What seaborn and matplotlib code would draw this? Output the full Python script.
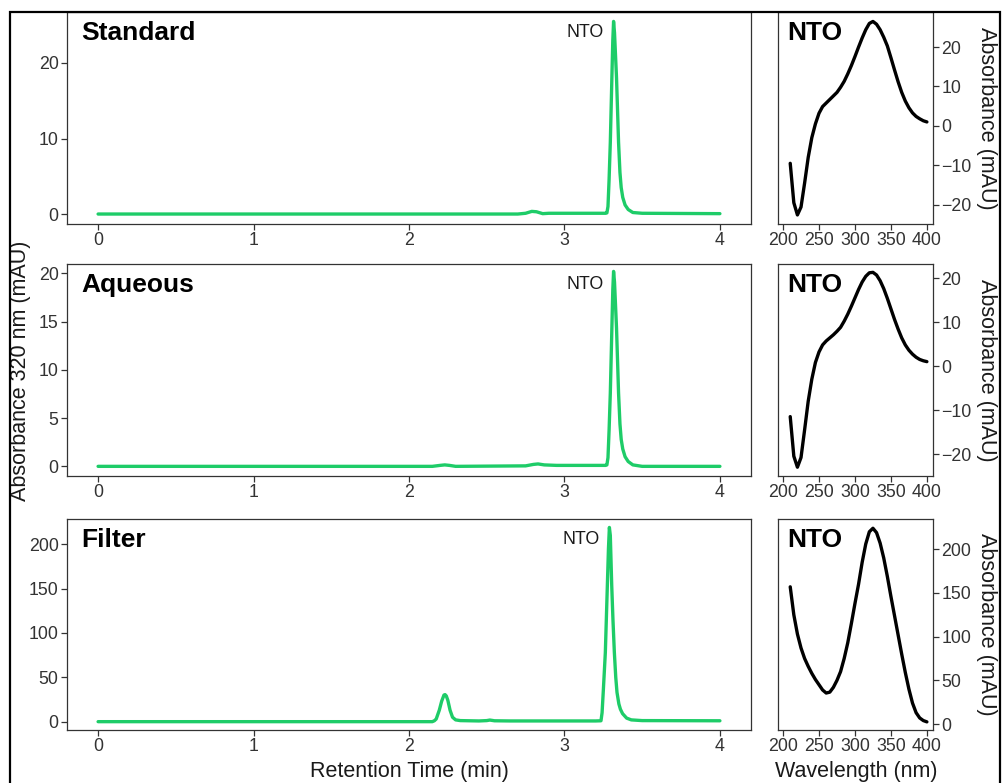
import matplotlib
matplotlib.use("Agg")
import matplotlib.pyplot as plt
import seaborn as sns
import numpy as np
from matplotlib.patches import Rectangle

# ---------------- data ----------------
sample_titles = ["Standard", "Aqueous", "Filter"]
peak_label = "NTO"

std_time = [0.0, 2.70, 2.75, 2.79, 2.82, 2.86, 2.90, 3.00, 3.20, 3.265, 3.273, 3.28, 3.287,
            3.295, 3.305, 3.311, 3.316, 3.322, 3.335, 3.348, 3.357, 3.365, 3.375, 3.39,
            3.41, 3.44, 3.50, 4.0]
std_abs = [0.0, 0.0, 0.1, 0.35, 0.3, 0.05, 0.1, 0.1, 0.1, 0.1, 0.15, 1.0, 4.5,
           9.5, 18.0, 23.0, 25.5, 24.0, 18.0, 9.5, 5.5, 3.5, 2.2, 1.2,
           0.6, 0.2, 0.1, 0.05]

aq_time = [0.0, 2.15, 2.20, 2.23, 2.26, 2.30, 2.75, 2.80, 2.83, 2.87, 2.95, 3.20, 3.265,
           3.273, 3.28, 3.287, 3.295, 3.305, 3.311, 3.316, 3.322, 3.335, 3.348, 3.357,
           3.365, 3.375, 3.39, 3.41, 3.44, 3.50, 4.0]
aq_abs = [0.0, 0.0, 0.1, 0.15, 0.1, 0.0, 0.05, 0.2, 0.25, 0.15, 0.1, 0.1, 0.1,
          0.15, 0.9, 3.7, 7.6, 14.3, 18.3, 20.2, 19.1, 14.3, 7.6, 4.4,
          2.8, 1.8, 1.0, 0.5, 0.15, 0.0, 0.0]

fil_time = [0.0, 2.15, 2.163, 2.175, 2.195, 2.21, 2.225, 2.232, 2.24, 2.25, 2.264, 2.28,
            2.30, 2.33, 2.45, 2.50, 2.52, 2.55, 2.65, 3.20, 3.235, 3.242, 3.25, 3.263,
            3.276, 3.283, 3.289, 3.295, 3.304, 3.312, 3.321, 3.33, 3.338, 3.35, 3.36,
            3.374, 3.40, 3.43, 3.50, 4.0]
fil_abs = [0.0, 0.0, 1.0, 3.0, 13.0, 23.0, 30.0, 30.5, 29.0, 24.0, 13.0, 5.0,
           2.0, 1.2, 0.8, 1.2, 1.8, 1.0, 0.8, 0.8, 1.0, 10.0, 35.0, 78.0,
           154.0, 195.0, 219.0, 210.0, 154.0, 115.0, 78.0, 50.0, 33.0, 20.0, 14.0,
           9.0, 4.0, 2.0, 1.2, 1.0]

wavelength = [210, 215, 220, 225, 230, 235, 240, 245, 250, 255, 260, 265, 270, 275,
              280, 285, 290, 295, 300, 305, 310, 315, 320, 325, 330, 335, 340, 345,
              350, 355, 360, 365, 370, 375, 380, 385, 390, 395, 400]
std_spec = [-9.5, -19.5, -22.6, -20.6, -14.5, -8.0, -3.0, 0.5, 3.2, 4.9, 5.8, 6.7, 7.6, 8.5,
            9.8, 11.3, 13.2, 15.3, 17.6, 20.0, 22.3, 24.4, 26.0, 26.5, 25.8, 24.4, 22.5, 20.3,
            17.3, 14.2, 11.2, 8.5, 6.3, 4.6, 3.3, 2.4, 1.8, 1.3, 1.0]
aq_spec = [-11.5, -20.5, -23.0, -20.8, -14.5, -8.0, -3.0, 0.8, 3.2, 4.8, 5.7, 6.4, 7.1, 7.9,
           8.8, 10.2, 11.8, 13.6, 15.5, 17.4, 19.1, 20.4, 21.2, 21.3, 20.7, 19.4, 17.6, 15.4,
           13.0, 10.6, 8.4, 6.4, 4.8, 3.6, 2.7, 2.0, 1.5, 1.2, 1.0]
fil_spec = [157, 125, 103, 87, 75, 66, 58, 51, 45, 39, 35.5, 36.5, 42, 50,
            60, 75, 93, 115, 138, 160, 185, 206, 220, 224, 219, 207, 190, 169,
            146, 124, 102, 80, 59, 40, 24, 13, 7, 4, 2.5]

chrom_yticks = [[0, 10, 20], [0, 5, 10, 15, 20], [0, 50, 100, 150, 200]]
spec_yticks = [[-20, -10, 0, 10, 20], [-20, -10, 0, 10, 20], [0, 50, 100, 150, 200]]
chrom_xticks = [0, 1, 2, 3, 4]
spec_xticks = [200, 250, 300, 350, 400]

# ---------------- style ----------------
sns.set_theme(style="ticks")
plt.rcParams["font.family"] = ["Liberation Sans", "DejaVu Sans"]

W, H = 1004, 783
fig = plt.figure(figsize=(W / 100, H / 100), dpi=100)

GREEN = "#1ECC68"
FRAME = "#333333"
TICKTXT = "#333333"


def px_axes(l, t, r, b):
    return fig.add_axes([l / W, 1 - b / H, (r - l) / W, (b - t) / H])


rows = [(12, 224), (264, 476), (519, 730)]
chrom = [(std_time, std_abs), (aq_time, aq_abs), (fil_time, fil_abs)]
specs = [std_spec, aq_spec, fil_spec]
chrom_ylim = [(-1.32, 26.75), (-1.0, 20.97), (-9.4, 228.5)]
spec_ylim = [(-24.9, 28.9), (-25.0, 23.2), (-6.8, 234.6)]


def style_axes(ax):
    for s in ax.spines.values():
        s.set_visible(True)
        s.set_color(FRAME)
        s.set_linewidth(0.9)
    ax.tick_params(direction="out", length=4, width=0.9, color=FRAME,
                   labelsize=12.8, labelcolor=TICKTXT, pad=2)


for i, (top, bot) in enumerate(rows):
    t, a = chrom[i]
    axc = px_axes(67, top, 751, bot)
    sns.lineplot(x=t, y=a, ax=axc, color=GREEN, linewidth=2.4, estimator=None, sort=False,
                 solid_joinstyle="round", solid_capstyle="round")
    axc.set_xlim(-0.2, 4.2)
    axc.set_ylim(*chrom_ylim[i])
    axc.set_xticks(chrom_xticks)
    axc.set_yticks(chrom_yticks[i])
    axc.set_xlabel("")
    axc.set_ylabel("")
    style_axes(axc)
    axc.annotate(sample_titles[i], xy=(0, 1), xycoords="axes fraction",
                 xytext=(14, -28), textcoords="offset pixels",
                 ha="left", va="baseline", fontsize=19, fontweight="bold", color="black")
    k = int(np.argmax(a))
    axc.annotate(peak_label, xy=(t[k], 1), xycoords=("data", "axes fraction"),
                 xytext=(-10, -25), textcoords="offset pixels",
                 ha="right", va="baseline", fontsize=12.8, color="#1a1a1a")

    axs = px_axes(778, top, 933, bot)
    sns.lineplot(x=wavelength, y=specs[i], ax=axs, color="black", linewidth=2.4,
                 estimator=None, sort=False, solid_joinstyle="round", solid_capstyle="round")
    axs.set_xlim(193, 408.5)
    axs.set_ylim(*spec_ylim[i])
    axs.set_xticks(spec_xticks)
    axs.set_yticks(spec_yticks[i])
    axs.yaxis.tick_right()
    axs.set_xlabel("")
    axs.set_ylabel("")
    style_axes(axs)
    axs.tick_params(axis="y", left=False, right=True, labelleft=False, labelright=True)
    axs.annotate(peak_label, xy=(0, 1), xycoords="axes fraction",
                 xytext=(9, -28), textcoords="offset pixels",
                 ha="left", va="baseline", fontsize=19, fontweight="bold", color="black")
    fig.text(987 / W, 1 - ((top + bot) / 2) / H, "Absorbance (mAU)", rotation=270,
             ha="center", va="center", fontsize=15.5, color="#1a1a1a")

fig.text(21 / W, 1 - 371 / H, "Absorbance 320 nm (mAU)", rotation=90,
         ha="center", va="center", fontsize=15.5, color="#1a1a1a")
fig.text(409 / W, 1 - 772 / H, "Retention Time (min)", ha="center", va="center",
         fontsize=15.5, color="#1a1a1a")
fig.text(856 / W, 1 - 772 / H, "Wavelength (nm)", ha="center", va="center",
         fontsize=15.5, color="#1a1a1a")

border = Rectangle((10 / W, -0.05), (1000 - 10) / W, 1.05 - 11.5 / H,
                   transform=fig.transFigure, fill=False, edgecolor="black",
                   linewidth=1.6, zorder=20)
fig.add_artist(border)

fig.savefig("out.png", dpi=100)
